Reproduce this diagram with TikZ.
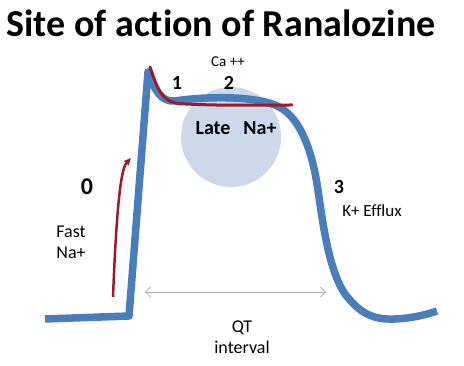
\documentclass[tikz,border=0pt]{standalone}
\usepackage{fontspec}
\setmainfont[Ligatures=NoCommon]{Carlito}
\usetikzlibrary{arrows.meta}

\definecolor{apblue}{HTML}{4A7EBB}
\definecolor{apred}{HTML}{9B1B2A}
\definecolor{spot}{HTML}{CDD9EA}

\begin{document}
\begin{tikzpicture}[x=1pt,y=-1pt]
	\tikzstyle{lbl}=[font=\fontsize{18}{21}\selectfont,inner sep=1pt]
	\tikzstyle{num}=[font=\fontsize{20}{22}\selectfont\bfseries,inner sep=1pt]
	\useasboundingbox (0,0) rectangle (464,366);
	% late sodium current spot
	\fill[spot] (231,137) circle (50);
	% title
	\node[font=\fontsize{38}{42}\selectfont\bfseries] (title) at (221,23) {Site of action of Ranalozine};
	% action potential
	\draw[apblue,line width=7.5pt,line join=round,line cap=butt]
		(45,319) -- (129,316) -- (148,72)
		.. controls (155,92) and (162,102) .. (175,101)
		.. controls (200,97) and (250,95) .. (275,105)
		.. controls (300,115) and (312,150) .. (318,190)
		.. controls (323,225) and (330,280) .. (350,300)
		.. controls (362,314) and (375,320) .. (395,319)
		.. controls (415,318) and (428,314) .. (437,311);
	% ranolazine effect
	\draw[apred,line width=3pt,line cap=round]
		(150,67) .. controls (158,90) and (162,104) .. (185,104)
		.. controls (230,106) and (260,105) .. (292,105);
	% fast sodium influx
	\coordinate (fastlow) at (113,297);
	\coordinate (fasthigh) at (131,158);
	\draw[apred,line width=2.5pt,-{Triangle[length=7pt,width=6pt]}]
		(fastlow) .. controls (116,220) and (120,170) .. (fasthigh);
	% labels
	\node[lbl,font=\fontsize{15}{18}\selectfont] (ca) at (228,62) {Ca ++};
	\node[num] (one) at (177,83) {1};
	\node[num] (two) at (229,83) {2};
	\node[lbl,font=\fontsize{20}{23}\selectfont\bfseries] (late) at (236,128) {Late\hspace{13pt}Na+};
	\node[num,font=\fontsize{24}{26}\selectfont\bfseries] (zero) at (87,187) {0};
	\node[lbl,align=center] (fast) at (71,242) {Fast\\Na+};
	\node[num] (three) at (339,187) {3};
	\node[lbl,font=\fontsize{17}{20}\selectfont] (kefflux) at (372,211) {K+ Efflux};
	\node[lbl,align=center] (qt) at (242,337) {QT\\interval};
	% QT interval
	\coordinate (qtleft) at (145,292);
	\coordinate (qtright) at (326,292);
	\draw[gray!60,line width=0.8pt,{Straight Barb[length=5pt]}-{Straight Barb[length=5pt]}] (qtleft) -- (qtright);
\end{tikzpicture}
\end{document}
